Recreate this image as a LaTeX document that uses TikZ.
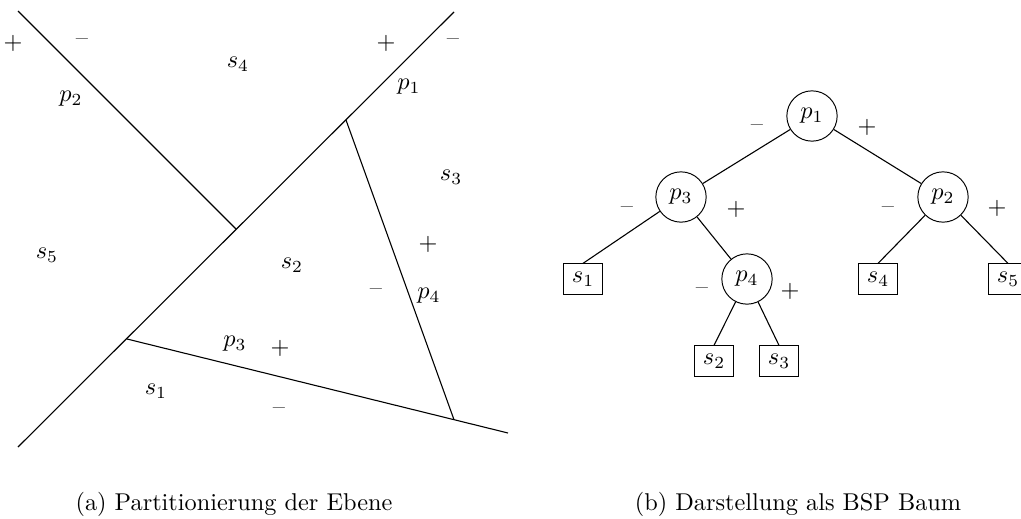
\documentclass[tikz,border=0pt]{standalone}
\begin{document}
\begin{tikzpicture}[x=0.4115pt,y=-0.4115pt,
  cutline/.style={line width=0.45pt},
  lbl/.style={inner sep=0pt},
  innernode/.style={draw,circle,inner sep=3.33pt},
  leafnode/.style={draw,rectangle,inner sep=3.33pt},
  treeedge/.style={line width=0.45pt},
  captext/.style={anchor=base,inner sep=0pt}]
\useasboundingbox (0,0) rectangle (1021,518);
% ---------- (a) partition of the plane ----------
\coordinate (a1) at (454,12);
\coordinate (a2) at (18,447);
\coordinate (b1) at (18,11);
\coordinate (b2) at (236,229);
\coordinate (c1) at (127,339);
\coordinate (c2) at (508,433);
\coordinate (d1) at (346,120);
\coordinate (d2) at (454,419.7);
\draw[cutline] (a1) -- (a2);
\draw[cutline] (b1) -- (b2);
\draw[cutline] (c1) -- (c2);
\draw[cutline] (d1) -- (d2);
\node[lbl] (pl1) at (13,43) {$+$};
\node[lbl] (mi1) at (82,42) {--};
\node[lbl] (ls4) at (238,64) {$s_4$};
\node[lbl] (pl2) at (386,43) {$+$};
\node[lbl] (mi2) at (453,42) {--};
\node[lbl] (lp1) at (409,87) {$p_1$};
\node[lbl] (lp2) at (71,99) {$p_2$};
\node[lbl] (ls3) at (451,177) {$s_3$};
\node[lbl] (pl3) at (428,244) {$+$};
\node[lbl] (ls5) at (47,255) {$s_5$};
\node[lbl] (ls2) at (292,265) {$s_2$};
\node[lbl] (mi3) at (376,292) {--};
\node[lbl] (lp4) at (429,296) {$p_4$};
\node[lbl] (lp3) at (235,344) {$p_3$};
\node[lbl] (pl4) at (280,348) {$+$};
\node[lbl] (ls1) at (156,391) {$s_1$};
\node[lbl] (mi4) at (279,411) {--};
% ---------- (b) BSP tree ----------
\node[innernode] (p1) at (812,116) {$p_1$};
\node[innernode] (p3) at (681,197) {$p_3$};
\node[innernode] (p2) at (943,197) {$p_2$};
\node[innernode] (p4) at (747,279) {$p_4$};
\node[leafnode] (s1) at (583,279) {$s_1$};
\node[leafnode] (s4) at (878,279) {$s_4$};
\node[leafnode] (s5) at (1008,279) {$s_5$};
\node[leafnode] (s2) at (714,361) {$s_2$};
\node[leafnode] (s3) at (779,361) {$s_3$};
\draw[treeedge] (p1) -- (p3);
\draw[treeedge] (p1) -- (p2);
\draw[treeedge] (p3) -- (s1.north);
\draw[treeedge] (p3) -- (p4);
\draw[treeedge] (p4) -- (s2.north);
\draw[treeedge] (p4) -- (s3.north);
\draw[treeedge] (p2) -- (s4.north);
\draw[treeedge] (p2) -- (s5.north);
\node[lbl] (tm1) at (757,128) {--};
\node[lbl] (tp1) at (867,127) {$+$};
\node[lbl] (tm2) at (627,210) {--};
\node[lbl] (tp2) at (736,209) {$+$};
\node[lbl] (tm3) at (888,210) {--};
\node[lbl] (tp3) at (997,208) {$+$};
\node[lbl] (tm4) at (702,291) {--};
\node[lbl] (tp4) at (790,291) {$+$};
% ---------- captions ----------
\node[captext] (capa) at (234,510) {(a) Partitionierung der Ebene};
\node[captext] (capb) at (798,510) {(b) Darstellung als BSP Baum};
\end{tikzpicture}
\end{document}
